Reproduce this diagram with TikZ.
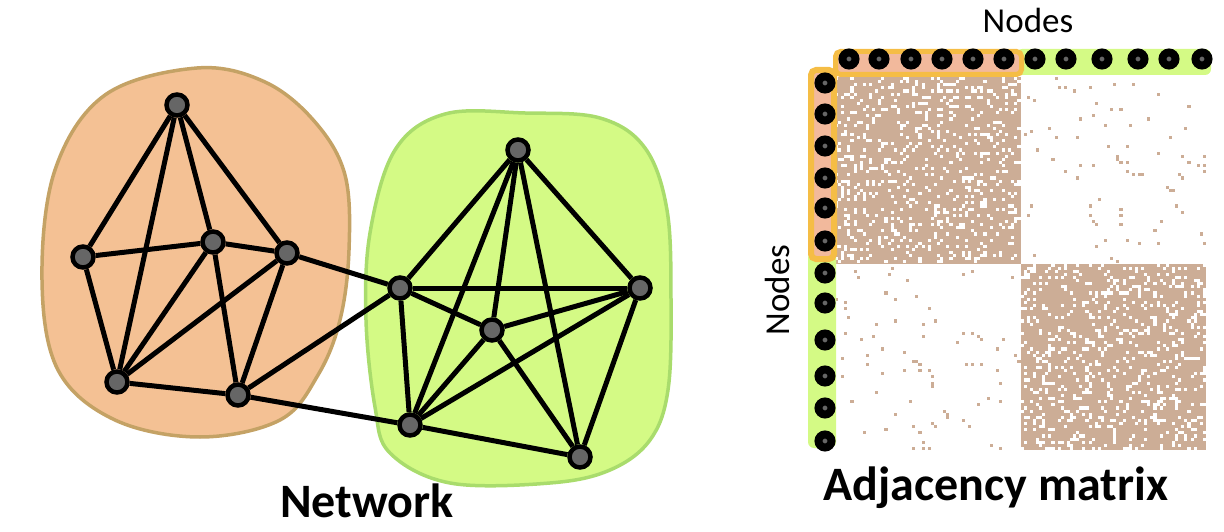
\documentclass[tikz,border=0pt]{standalone}
\usepackage{fontspec}
\setmainfont{Carlito}
\usepackage{xcolor}
\usetikzlibrary{arrows,positioning}
\definecolor{blobfill}{HTML}{F4C194}
\definecolor{blobline}{HTML}{C4A265}
\definecolor{greenfill}{HTML}{D4FA85}
\definecolor{greenline}{HTML}{A9DC6C}
\definecolor{vertexgray}{HTML}{666666}
\definecolor{celltan}{HTML}{CCAD96}
\definecolor{bandorange}{HTML}{F5BD45}
\definecolor{bandpink}{HTML}{F2B99C}

\begin{document}
\begin{tikzpicture}[x=1pt,y=-1pt,vertex/.style={circle,draw=black,fill=vertexgray,line width=4.5pt,minimum size=21pt,inner sep=0pt}]
	\useasboundingbox (0,0) rectangle (1224,532);
	\tikzset{mystyle/.style={-,black,line width=5pt},
		marker/.style={circle,draw=black,fill=vertexgray,line width=8pt,minimum size=13pt,inner sep=0pt}}

	% communities
	\draw[blobline,fill=blobfill,line width=3.5pt] plot[smooth cycle,tension=0.6] coordinates {(197,68) (265,82) (315,122) (345,175) (349,250) (340,320) (318,375) (280,420) (200,437) (115,420) (58,370) (42,280) (55,170) (105,95)};
	\draw[greenline,fill=greenfill,line width=3.5pt] plot[smooth cycle,tension=0.6] coordinates {(445,114) (525,113) (600,118) (645,148) (667,210) (671,300) (668,390) (650,440) (610,470) (550,483) (450,483) (390,453) (375,407) (366,320) (370,233) (395,150)};

	  \node[vertex]          (l1) at (177,105)    {};
	  \node[vertex]          (l2) at (83,257)     {};
	  \node[vertex]          (l3) at (213,242)    {};
	  \node[vertex]          (l4) at (287,253)    {};
	  \node[vertex]          (l5) at (117,382)    {};
	  \node[vertex]          (l6) at (238,395)    {};
	  \node[vertex]          (r1) at (400,288)    {};
	  \node[vertex]          (r2) at (518,150)    {};
	  \node[vertex]          (r3) at (640,288)    {};
	  \node[vertex]          (r4) at (492,330)    {};
	  \node[vertex]          (r5) at (410,425)    {};
	  \node[vertex]          (r6) at (580,457)    {};

	\path (l1)     edge [mystyle]    (l2)
		  (l1)     edge [mystyle]    (l5)
		  (l1)     edge [mystyle]    (l3)
		  (l1)     edge [mystyle]    (l4)
		  (l2)     edge [mystyle]    (l3)
		  (l2)     edge [mystyle]    (l5)
		  (l3)     edge [mystyle]    (l4)
		  (l3)     edge [mystyle]    (l5)
		  (l3)     edge [mystyle]    (l6)
		  (l4)     edge [mystyle]    (l5)
		  (l4)     edge [mystyle]    (l6)
		  (l5)     edge [mystyle]    (l6)
		  (l4)     edge [mystyle]    (r1)
		  (l6)     edge [mystyle]    (r1)
		  (l6)     edge [mystyle]    (r5)
		  (r1)     edge [mystyle]    (r2)
		  (r1)     edge [mystyle]    (r3)
		  (r1)     edge [mystyle]    (r4)
		  (r1)     edge [mystyle]    (r5)
		  (r2)     edge [mystyle]    (r3)
		  (r2)     edge [mystyle]    (r4)
		  (r2)     edge [mystyle]    (r5)
		  (r2)     edge [mystyle]    (r6)
		  (r4)     edge [mystyle]    (r3)
		  (r4)     edge [mystyle]    (r5)
		  (r4)     edge [mystyle]    (r6)
		  (r5)     edge [mystyle]    (r3)
		  (r5)     edge [mystyle]    (r6)
		  (r3)     edge [mystyle]    (r6);

	\node[font=\bfseries,inner sep=0pt,anchor=base] (net) at (367,517) {\fontsize{48}{48}\selectfont Network};

	% adjacency matrix
	\pgfmathsetseed{42}
	\fill[celltan] (835,77) rectangle (1020.5,263.5);
	\fill[celltan] (1020.5,263.5) rectangle (1206,450);
	\foreach \k in {1,...,360}{
		\pgfmathrandominteger{\ri}{0}{59}
		\pgfmathrandominteger{\rj}{0}{59}
		\fill[white] ({835+\ri*3.092},{77+\rj*3.108}) rectangle ++(3.092,3.108);
		\fill[white] ({835+\rj*3.092},{77+\ri*3.108}) rectangle ++(3.092,3.108);
		\pgfmathrandominteger{\si}{60}{119}
		\pgfmathrandominteger{\sj}{60}{119}
		\fill[white] ({835+\si*3.092},{77+\sj*3.108}) rectangle ++(3.092,3.108);
		\fill[white] ({835+\sj*3.092},{77+\si*3.108}) rectangle ++(3.092,3.108);
	}
	\foreach \k in {1,...,80}{
		\pgfmathrandominteger{\ri}{0}{59}
		\pgfmathrandominteger{\rj}{60}{119}
		\fill[celltan] ({835+\ri*3.092},{77+\rj*3.108}) rectangle ++(3.092,3.108);
		\fill[celltan] ({835+\rj*3.092},{77+\ri*3.108}) rectangle ++(3.092,3.108);
	}

	% node bands
	\fill[greenfill,rounded corners=6pt] (1016,49) rectangle (1211,75);
	\fill[greenfill,rounded corners=6pt] (808,252) rectangle (836,448);
	\draw[bandorange,fill=bandpink,line width=5pt,rounded corners=5pt] (835.5,51.5) rectangle (1021.5,74.5);
	\draw[bandorange,fill=bandpink,line width=6pt,rounded corners=5pt] (811,70) rectangle (834,259);
	\foreach \x [count=\i] in {849,879,911,942,973,1004,1035,1066,1102,1138,1169,1202}
		\node[marker] (t\i) at (\x,59) {};
	\foreach \y [count=\i] in {83,114,146,178,208,241,273,303,340,376,408,441}
		\node[marker] (s\i) at (825,\y) {};

	\node[inner sep=0pt,anchor=base] (topnodes) at (1028,33) {\fontsize{35}{35}\selectfont Nodes};
	\node[inner sep=0pt,anchor=base,rotate=90] (sidenodes) at (789,290) {\fontsize{35}{35}\selectfont Nodes};
	\node[font=\bfseries,inner sep=0pt,anchor=base] (adj) at (996,500) {\fontsize{48}{48}\selectfont Adjacency matrix};
\end{tikzpicture}
\end{document}
